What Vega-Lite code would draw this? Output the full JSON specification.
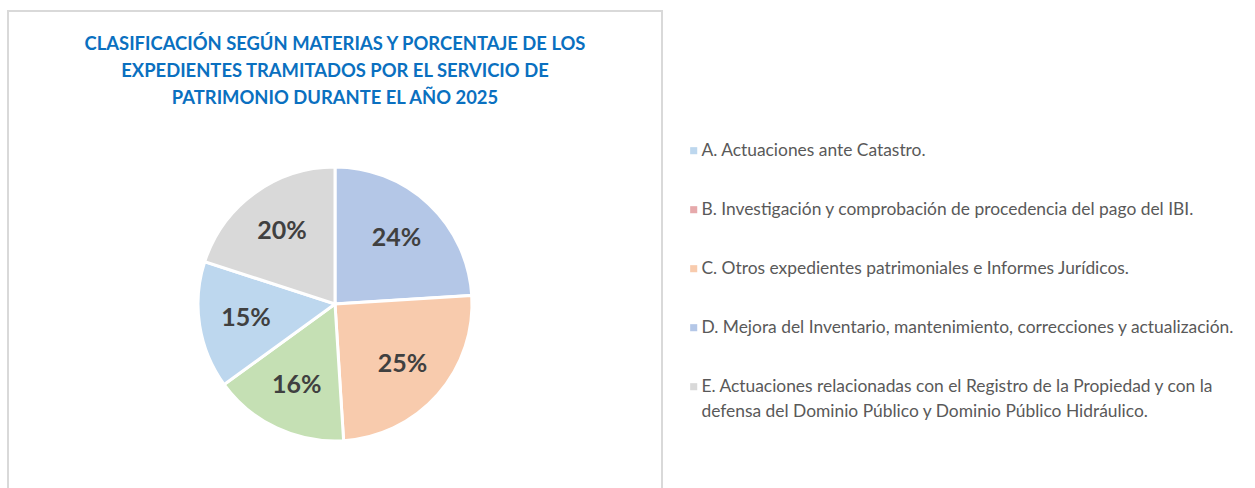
{
  "$schema": "https://vega.github.io/schema/vega-lite/v6.json",
  "width": 654,
  "height": 586,
  "autosize": {"type": "none"},
  "padding": {"left": 8, "top": 11, "right": 593, "bottom": -109},
  "background": "white",
  "view": {"stroke": "#D9D9D9", "strokeWidth": 2, "fill": "white"},
  "config": {
    "view": {"stroke": "#D9D9D9", "strokeWidth": 2},
    "font": "Lato",
    "style": {"guide-label": {"lineHeight": 25}}
  },
  "title": {
    "text": ["CLASIFICACIÓN SEGÚN MATERIAS Y PORCENTAJE DE LOS", "EXPEDIENTES TRAMITADOS POR EL SERVICIO DE", "PATRIMONIO DURANTE EL AÑO 2025"],
    "anchor": "middle",
    "frame": "group",
    "offset": -96,
    "font": "Lato",
    "fontSize": 18.4,
    "fontWeight": "bold",
    "color": "#0A70C0",
    "lineHeight": 27
  },
  "data": {
    "values": [
      {"materia": "D. Mejora del Inventario, mantenimiento, correcciones y actualización.", "valor": 0.24, "orden": 1},
      {"materia": "C. Otros expedientes patrimoniales e Informes Jurídicos.", "valor": 0.25, "orden": 2},
      {"materia": "Otros", "valor": 0.16, "orden": 3},
      {"materia": "A. Actuaciones ante Catastro.", "valor": 0.15, "orden": 4},
      {"materia": "E. Actuaciones relacionadas con el Registro de la Propiedad y con la\ndefensa del Dominio Público y Dominio Público Hidráulico.", "valor": 0.20, "orden": 5}
    ]
  },
  "encoding": {
    "theta": {"field": "valor", "type": "quantitative", "stack": true},
    "order": {"field": "orden", "type": "quantitative"}
  },
  "layer": [
    {
      "mark": {"type": "arc", "outerRadius": 137, "stroke": "white", "strokeWidth": 3},
      "encoding": {
        "color": {
          "field": "materia",
          "type": "nominal",
          "scale": {
            "domain": [
              "A. Actuaciones ante Catastro.",
              "B.  Investigación y comprobación de procedencia del pago del IBI.",
              "C. Otros expedientes patrimoniales e Informes Jurídicos.",
              "D. Mejora del Inventario, mantenimiento, correcciones y actualización.",
              "E. Actuaciones relacionadas con el Registro de la Propiedad y con la\ndefensa del Dominio Público y Dominio Público Hidráulico.",
              "Otros"
            ],
            "range": ["#BDD7EE", "#E6A9AB", "#F8CBAD", "#B4C7E7", "#D9D9D9", "#C5E0B4"]
          },
          "legend": {
            "orient": "none",
            "legendX": 677,
            "legendY": 131,
            "values": [
              "A. Actuaciones ante Catastro.",
              "B.  Investigación y comprobación de procedencia del pago del IBI.",
              "C. Otros expedientes patrimoniales e Informes Jurídicos.",
              "D. Mejora del Inventario, mantenimiento, correcciones y actualización.",
              "E. Actuaciones relacionadas con el Registro de la Propiedad y con la\ndefensa del Dominio Público y Dominio Público Hidráulico."
            ],
            "title": null,
            "symbolType": "square",
            "symbolSize": 50,
            "symbolStrokeWidth": 0,
            "labelFont": "Lato",
            "labelFontSize": 17.4,
            "labelColor": "#595959",
            "labelLimit": 0,
            "labelOffset": -1,
            "rowPadding": 40,
            "labelExpr": "split(datum.label, '\\n')",
            "encode": {"labels": {"update": {"lineHeight": {"value": 25}}}}
          }
        }
      }
    },
    {
      "mark": {"type": "text", "radius": 90, "font": "Lato", "fontSize": 25, "fontWeight": "bold", "color": "#404040"},
      "encoding": {
        "text": {"field": "valor", "type": "quantitative", "format": ".0%"}
      }
    }
  ]
}
